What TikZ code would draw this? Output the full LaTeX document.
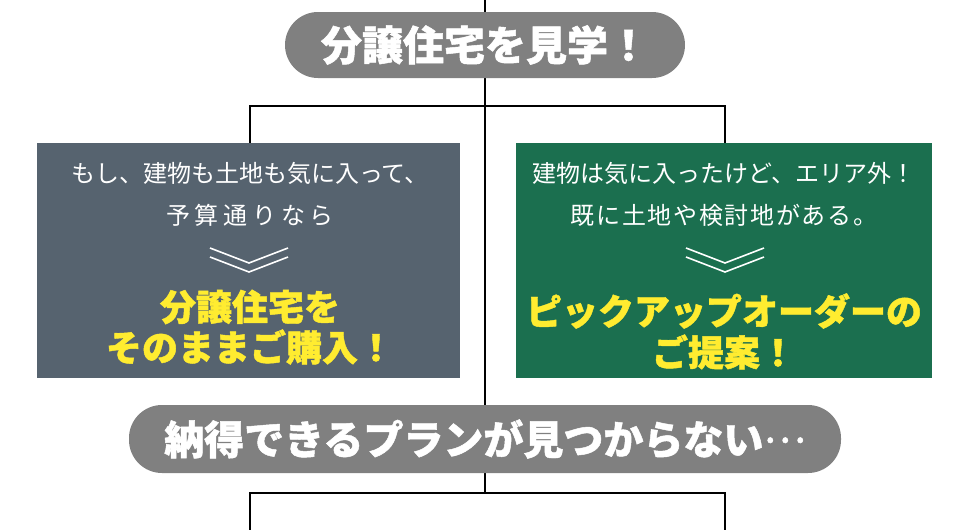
\documentclass[tikz,border=0pt]{standalone}
\usepackage{fontspec}
\newfontfamily\cjk{Noto Sans CJK JP}
\usepackage{tikz}
\usetikzlibrary{calc}
\usetikzlibrary{backgrounds}
\definecolor{pillgray}{RGB}{128,128,128}
\definecolor{slate}{RGB}{86,99,111}
\definecolor{deepgreen}{RGB}{27,111,79}
\definecolor{markyellow}{RGB}{255,236,48}
\begin{document}
\begin{tikzpicture}[x=1pt,y=-1pt,line join=miter,
  pill/.style={shape=rectangle,fill=pillgray,rounded corners=33pt,inner sep=0pt,text=white,font=\cjk\bfseries\addfontfeature{FakeBold=1.2}\fontsize{41}{41}\selectfont},
  panel/.style={shape=rectangle,inner sep=0pt,minimum height=235pt},
  note/.style={text=white,inner sep=0pt,font=\cjk\fontsize{24}{30}\selectfont},
  punch/.style={text=markyellow,inner sep=0pt,font=\cjk\bfseries\addfontfeature{FakeBold=1.2}\fontsize{36}{40}\selectfont},
  wire/.style={line width=2.2pt,draw=black},
  chevron/.style={line width=1.6pt,draw=white}]
\useasboundingbox (0,0) rectangle (970,530);
\node[pill,minimum width=400pt,minimum height=66pt] (see) at (485,45) {分譲住宅を見学！};
\node[pill,minimum width=712pt,minimum height=68pt,font=\cjk\bfseries\addfontfeature{FakeBold=1.2}\fontsize{40}{40}\selectfont] (miss) at (485,439) {納得できるプランが見つからない\raisebox{0.3em}{\mdseries…}};
\node[panel,fill=slate,minimum width=423pt] (buy) at (248.5,260.5) {};
\node[panel,fill=deepgreen,minimum width=416pt] (order) at (724,260.5) {};
\node[note] (buy1) at (250,173) {もし、建物も土地も気に入って、};
\node[note,font=\cjk\addfontfeature{LetterSpace=20}\fontsize{24}{30}\selectfont] (buy2) at (250,215) {予算通りなら};
\node[punch] (buy3) at (250,307) {分譲住宅を};
\node[punch] (buy4) at (250,347) {そのままご購入！};
\node[note] (order1) at (724,173) {建物は気に入ったけど、エリア外！};
\node[note,font=\cjk\addfontfeature{LetterSpace=7}\fontsize{24}{30}\selectfont] (order2) at (724,215) {既に土地や検討地がある。};
\node[punch] (order3) at (724,311) {ピックアップオーダーの};
\node[punch] (order4) at (724,352) {ご提案！};
\coordinate (lchev) at (249,248);
\coordinate (rchev) at (725,248);
\draw[chevron,shift={(lchev)}] (-39,0) -- (0,15) -- (39,0) (-39,9) -- (0,24) -- (39,9);
\draw[chevron,shift={(rchev)}] (-39,0) -- (0,15) -- (39,0) (-39,9) -- (0,24) -- (39,9);
\coordinate (start) at (485,0);
\coordinate (forkL) at (250,106);
\coordinate (forkR) at (725,106);
\coordinate (join) at (485,493);
\coordinate (joinL) at (250,493);
\coordinate (joinR) at (725,493);
\coordinate (endL) at (250,530);
\coordinate (endR) at (725,530);
\begin{scope}[on background layer]
\draw [wire] (start) to (see);
\draw [wire] (see) to (miss);
\draw [wire] (forkL |- buy.north) -- (forkL) -- (forkR) -- (forkR |- order.north);
\draw [wire] (miss) to (join);
\draw [wire] (endL) -- (joinL) -- (joinR) -- (endR);
\end{scope}
\end{tikzpicture}
\end{document}
